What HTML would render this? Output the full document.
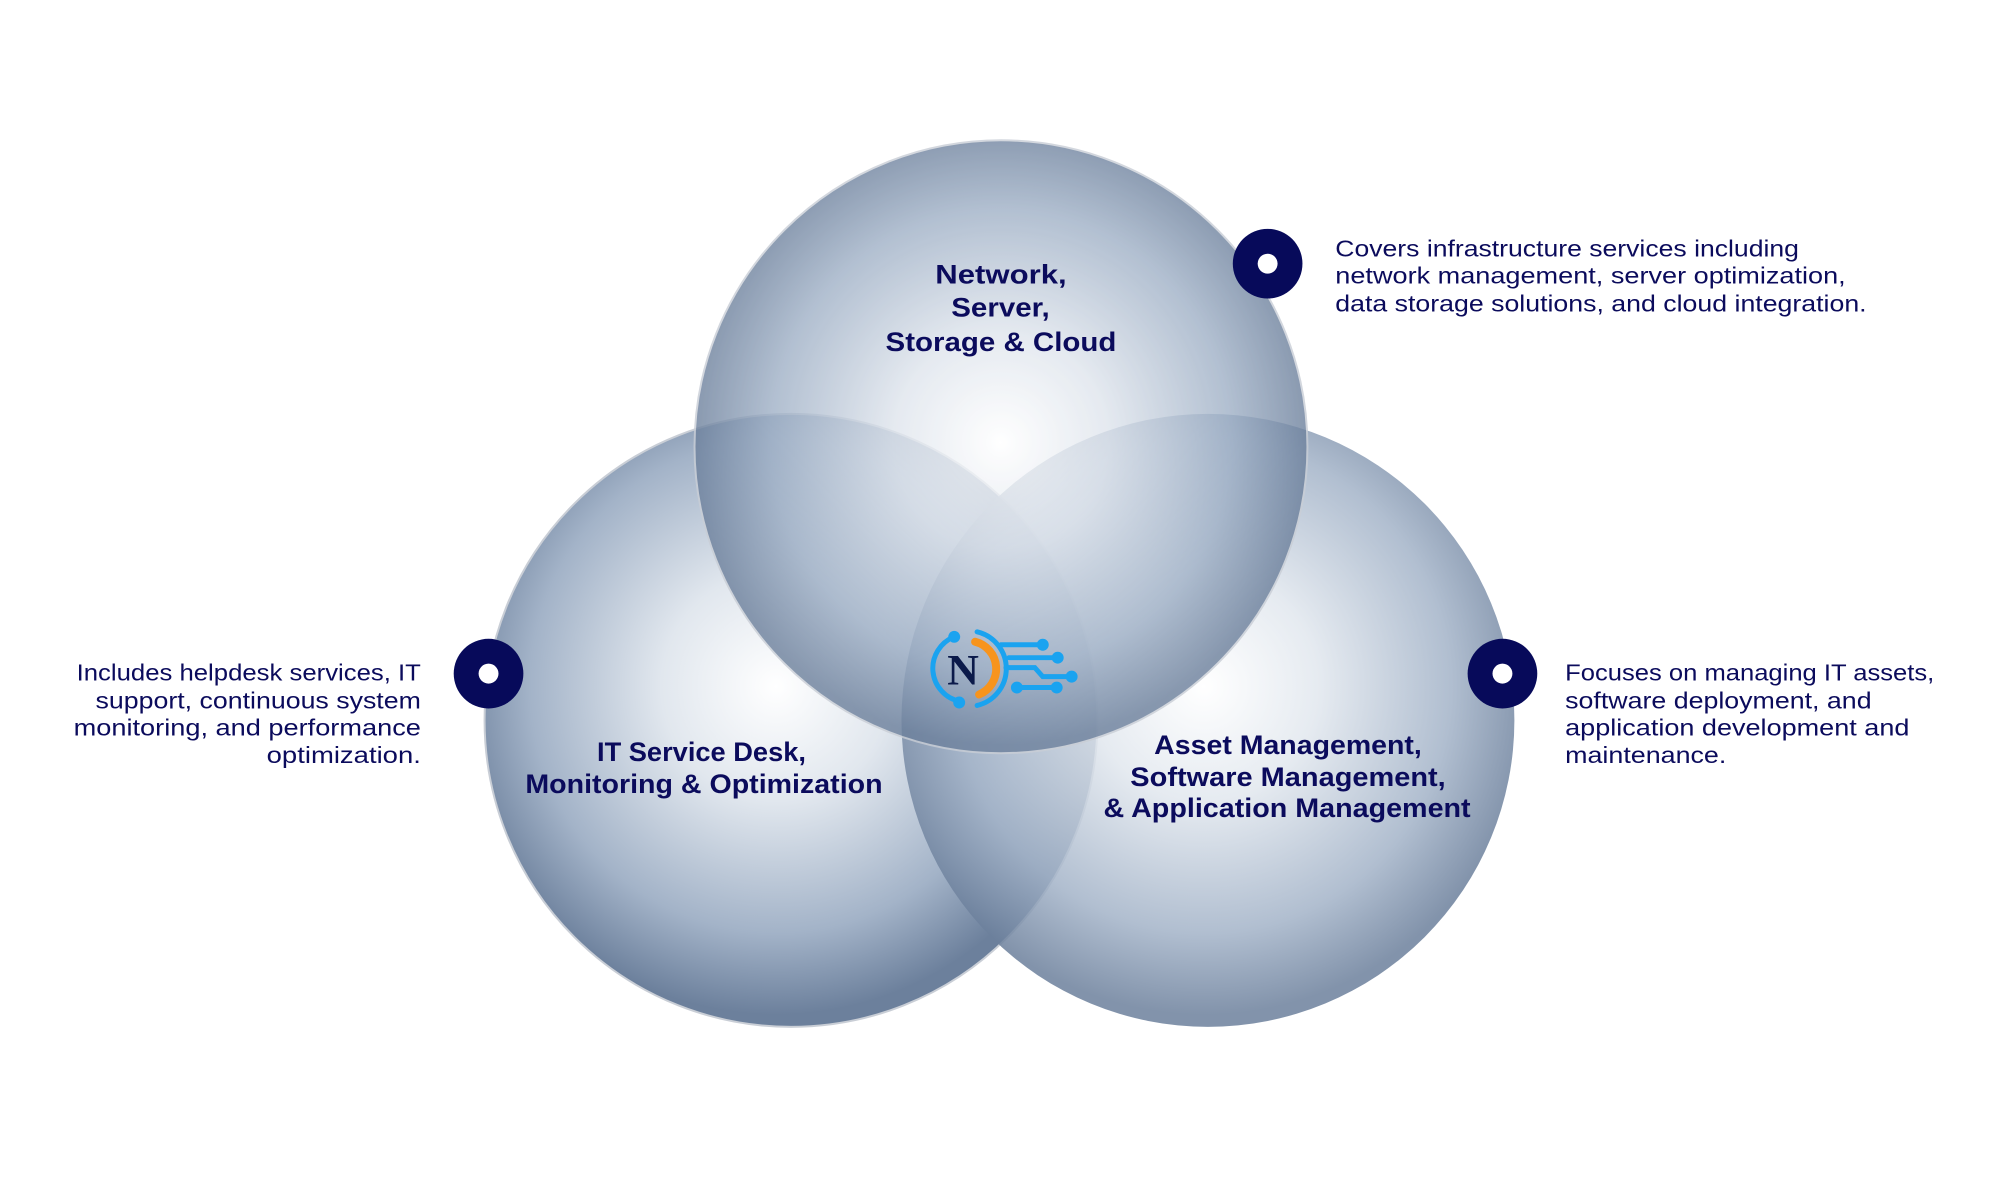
<!DOCTYPE html>
<html><head><meta charset="utf-8"><style>
html,body{margin:0;padding:0;background:#fff;width:2000px;height:1200px;overflow:hidden}
svg{display:block}
text{font-family:"Liberation Sans",sans-serif;fill:#0b0b5c}
.b{font-weight:bold;font-size:27px}
.s{font-size:23px}
</style></head><body>
<svg width="2000" height="1200" viewBox="0 0 2000 1200">
<defs>
<radialGradient id="gt" cx="1006" cy="440" r="309" fx="1006" fy="445" gradientUnits="userSpaceOnUse">
<stop offset="0" stop-color="#ffffff"/><stop offset="0.35" stop-color="#dfe5ed"/><stop offset="0.75" stop-color="#9fb0c6"/><stop offset="1" stop-color="#6c809c"/></radialGradient>
<radialGradient id="gl" cx="780" cy="690" r="330" gradientUnits="userSpaceOnUse">
<stop offset="0" stop-color="#ffffff"/><stop offset="0.35" stop-color="#e1e7ee"/><stop offset="0.75" stop-color="#a3b3c8"/><stop offset="1" stop-color="#6c809c"/></radialGradient>
<radialGradient id="gr" cx="1210" cy="690" r="330" gradientUnits="userSpaceOnUse">
<stop offset="0" stop-color="#ffffff"/><stop offset="0.35" stop-color="#e1e7ee"/><stop offset="0.75" stop-color="#a3b3c8"/><stop offset="1" stop-color="#6c809c"/></radialGradient>
</defs>
<g transform="scale(0.995)">
<circle cx="795" cy="724" r="308" fill="url(#gl)" stroke="#c9ced6" stroke-width="2"/>
<circle cx="1214" cy="724" r="308" fill="url(#gr)" opacity="0.85"/>
<circle cx="1006" cy="449" r="308" fill="url(#gt)" opacity="0.8" stroke="#c9ced6" stroke-width="2"/>

<g transform="translate(8,3)">
<g fill="none" stroke-linecap="round">
<path d="M951 637 A34 34 0 0 0 957 702" stroke="#1aa3f0" stroke-width="5"/>
<path d="M972 642 A28 28 0 0 1 976 695" stroke="#f7941d" stroke-width="8"/>
<path d="M974 632 A38 38 0 0 1 974 706" stroke="#1aa3f0" stroke-width="5"/>
<path d="M998 645 H1036 M1006 658 H1052 M1003 668 H1032 L1040 677 H1066 M1016 688 H1052" stroke="#1aa3f0" stroke-width="5"/>
</g>
<g fill="#1aa3f0">
<circle cx="951" cy="637" r="6"/><circle cx="956" cy="703" r="6"/>
<circle cx="1040" cy="645" r="6"/><circle cx="1055" cy="658" r="6"/><circle cx="1069" cy="677" r="6"/>
<circle cx="1014" cy="688" r="6"/><circle cx="1054" cy="688" r="6"/>
</g>
<text x="944" y="685" style="font-family:'Liberation Serif',serif;font-weight:bold;font-size:44px;fill:#0b1a4a">N</text>
</g>

<circle cx="1274" cy="265" r="35" fill="#070a5a"/><circle cx="1274" cy="265" r="10" fill="#fff"/>
<circle cx="491" cy="677" r="35" fill="#070a5a"/><circle cx="491" cy="677" r="10" fill="#fff"/>
<circle cx="1510" cy="677" r="35" fill="#070a5a"/><circle cx="1510" cy="677" r="10" fill="#fff"/>

<text class="b" x="940" y="285" textLength="132" lengthAdjust="spacingAndGlyphs">Network,</text>
<text class="b" x="956" y="318" textLength="99" lengthAdjust="spacingAndGlyphs">Server,</text>
<text class="b" x="890" y="353" textLength="232" lengthAdjust="spacingAndGlyphs">Storage &amp; Cloud</text>
<text class="b" x="600" y="765" textLength="210" lengthAdjust="spacingAndGlyphs">IT Service Desk,</text>
<text class="b" x="528" y="797" textLength="359" lengthAdjust="spacingAndGlyphs">Monitoring &amp; Optimization</text>
<text class="b" x="1160" y="758" textLength="269" lengthAdjust="spacingAndGlyphs">Asset Management,</text>
<text class="b" x="1136" y="790" textLength="317" lengthAdjust="spacingAndGlyphs">Software Management,</text>
<text class="b" x="1109" y="821" textLength="369" lengthAdjust="spacingAndGlyphs">&amp; Application Management</text>

<text class="s" x="1342" y="258" textLength="466" lengthAdjust="spacingAndGlyphs">Covers infrastructure services including</text>
<text class="s" x="1342" y="285" textLength="513" lengthAdjust="spacingAndGlyphs">network management, server optimization,</text>
<text class="s" x="1342" y="313" textLength="534" lengthAdjust="spacingAndGlyphs">data storage solutions, and cloud integration.</text>

<text class="s" x="77" y="684" textLength="346" lengthAdjust="spacingAndGlyphs">Includes helpdesk services, IT</text>
<text class="s" x="96" y="712" textLength="327" lengthAdjust="spacingAndGlyphs">support, continuous system</text>
<text class="s" x="74" y="739" textLength="349" lengthAdjust="spacingAndGlyphs">monitoring, and performance</text>
<text class="s" x="268" y="767" textLength="155" lengthAdjust="spacingAndGlyphs">optimization.</text>

<text class="s" x="1573" y="684" textLength="371" lengthAdjust="spacingAndGlyphs">Focuses on managing IT assets,</text>
<text class="s" x="1573" y="712" textLength="308" lengthAdjust="spacingAndGlyphs">software deployment, and</text>
<text class="s" x="1573" y="739" textLength="346" lengthAdjust="spacingAndGlyphs">application development and</text>
<text class="s" x="1573" y="767" textLength="162" lengthAdjust="spacingAndGlyphs">maintenance.</text>
</g>
</svg>
</body></html>
